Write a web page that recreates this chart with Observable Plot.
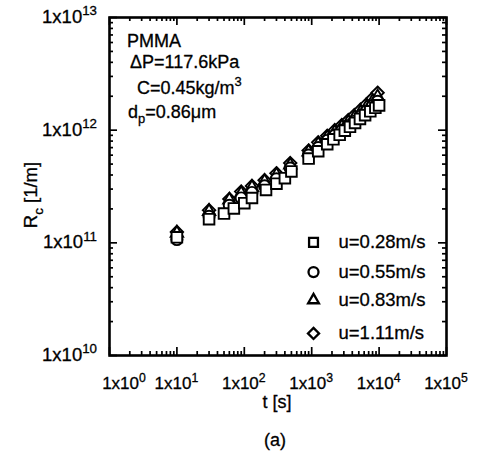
<!DOCTYPE html>
<html><head><meta charset="utf-8">
<script src="https://cdn.jsdelivr.net/npm/d3@7"></script>
<script src="https://cdn.jsdelivr.net/npm/@observablehq/plot@0.6"></script>
<style>
body{margin:0;background:#fff}
svg{font-family:"Liberation Sans",Arial,Helvetica,sans-serif;background:#fff}
</style>
</head><body><div id="chart"></div>
<script>
// ---- data ----
const seriesLabels = ["u=0.28m/s", "u=0.55m/s", "u=0.83m/s", "u=1.11m/s"];
const seriesSymbols = ["square", "circle", "triangle", "diamond2"];

const t028 = [10, 30, 50, 70, 100, 130, 210, 300, 400, 500, 900, 1250, 1700, 2100, 2600, 3100, 3700, 4400, 5200, 6200, 7400, 8800, 10000];
const r028 = [1.12e11, 1.62e11, 1.82e11, 2.02e11, 2.25e11, 2.5e11, 2.95e11, 3.35e11, 3.75e11, 4.3e11, 5.6e11, 6.5e11, 7.5e11, 8.3e11, 9.1e11, 9.9e11, 1.07e12, 1.16e12, 1.26e12, 1.36e12, 1.47e12, 1.58e12, 1.66e12];

const t055 = [10, 30, 60, 90, 130, 200, 300, 480, 900, 1250, 1700, 2200, 2800, 3500, 4300, 5300, 6500, 8000, 9500];
const r055 = [1.07e11, 1.72e11, 2.15e11, 2.5e11, 2.8e11, 3.2e11, 3.7e11, 4.6e11, 6.0e11, 7.0e11, 8.1e11, 9.0e11, 1.0e12, 1.1e12, 1.2e12, 1.33e12, 1.48e12, 1.65e12, 1.8e12];

const t083 = [10, 30, 60, 90, 130, 200, 300, 480, 900, 1250, 1700, 2200, 2800, 3500, 4300, 5300, 6500, 8000, 9500];
const r083 = [1.22e11, 1.9e11, 2.4e11, 2.75e11, 3.1e11, 3.5e11, 4.0e11, 4.9e11, 6.4e11, 7.5e11, 8.6e11, 9.6e11, 1.07e12, 1.18e12, 1.3e12, 1.44e12, 1.6e12, 1.8e12, 1.98e12];

const t111 = [10, 30, 60, 90, 130, 200, 300, 480, 900, 1250, 1700, 2200, 2800, 3500, 4300, 5300, 6500, 8000, 9500];
const r111 = [1.25e11, 1.95e11, 2.45e11, 2.85e11, 3.2e11, 3.6e11, 4.15e11, 5.1e11, 6.6e11, 7.8e11, 8.9e11, 1.0e12, 1.11e12, 1.23e12, 1.36e12, 1.52e12, 1.7e12, 1.92e12, 2.15e12];

const xTickExps = [0, 1, 2, 3, 4, 5];
const yTickExps = [10, 11, 12, 13];

const legendT = 1064;
const legendR = [1.01e11, 5.5e10, 3.1e10, 1.57e10];

const annotation = ["PMMA", "ΔP=117.6kPa", "C=0.45kg/m", "d"];

// ---- build tables ----
const seriesT = [t028, t055, t083, t111];
const seriesR = [r028, r055, r083, r111];
const rows = seriesT.flatMap((ts, i) => ts.map((t, j) => ({series: seriesLabels[i], t, r: seriesR[i][j]})));
const legendRows = seriesLabels.map((label, i) => ({label, t: legendT, r: legendR[i]}));

const W = 481, H = 464;
const M = {top: 17, right: 35, bottom: 109, left: 109};
const plotH = H - M.top - M.bottom;
const plotW = W - M.left - M.right;

const majorX = xTickExps.map(e => 10 ** e);
const minorX = xTickExps.slice(0, -1).flatMap(e => d3.range(2, 10).map(k => k * 10 ** e));
const majorY = yTickExps.map(e => 10 ** e);
const minorY = yTickExps.slice(0, -1).flatMap(e => d3.range(2, 10).map(k => k * 10 ** e));

const majorLen = 8, minorLen = 4, tickW = 1.7;
const dataR = [6, 5.6, 4.6, 5.6];
const legendSize = [5, 5, 4, 5];

const dotMarks = [3, 2, 1, 0].map(i => Plot.dot(rows.filter(d => d.series === seriesLabels[i]), {
  x: "t", y: "r", symbol: "series", r: dataR[i],
  fill: "white", stroke: "black", strokeWidth: 1.9
}));
const legendMarks = legendRows.map((d, i) => Plot.dot([d], {
  x: "t", y: "r", symbol: "label", r: legendSize[i], fill: "white", stroke: "black", strokeWidth: 2.3
}));

const chart = Plot.plot({
  width: W, height: H,
  marginTop: M.top, marginRight: M.right, marginBottom: M.bottom, marginLeft: M.left,
  x: {type: "log", domain: [1, 1e5], axis: null},
  y: {type: "log", domain: [1e10, 1e13], axis: null},
  symbol: {domain: seriesLabels, range: seriesSymbols},
  marks: [
    // inward ticks on all four sides
    Plot.ruleX(majorX, {x: d => d, insetTop: plotH - majorLen, stroke: "black", strokeWidth: tickW}),
    Plot.ruleX(minorX, {x: d => d, insetTop: plotH - minorLen, stroke: "black", strokeWidth: tickW}),
    Plot.ruleX(majorX, {x: d => d, insetBottom: plotH - majorLen, stroke: "black", strokeWidth: tickW}),
    Plot.ruleX(minorX, {x: d => d, insetBottom: plotH - minorLen, stroke: "black", strokeWidth: tickW}),
    Plot.ruleY(majorY, {y: d => d, insetRight: plotW - majorLen, stroke: "black", strokeWidth: tickW}),
    Plot.ruleY(minorY, {y: d => d, insetRight: plotW - minorLen, stroke: "black", strokeWidth: tickW}),
    Plot.ruleY(majorY, {y: d => d, insetLeft: plotW - majorLen, stroke: "black", strokeWidth: tickW}),
    Plot.ruleY(minorY, {y: d => d, insetLeft: plotW - minorLen, stroke: "black", strokeWidth: tickW}),
    Plot.frame({stroke: "black", strokeWidth: 2.6}),
    ...dotMarks,
    ...legendMarks,
    Plot.text(legendRows, {x: "t", y: "r", text: "label", dx: 25, textAnchor: "start", fontSize: 18.5, fill: "black", stroke: "black", strokeWidth: 0.3})
  ]
});

// ---- text with super/subscripts, positioned through the plot's scales ----
const sx = chart.scale("x"), sy = chart.scale("y");
const svg = d3.select(chart);
const g = svg.append("g").attr("fill", "black").attr("stroke", "black").attr("stroke-width", 0.3);

function scriptText(x, y, parts, size, anchor) {
  const t = g.append("text").attr("x", x).attr("y", y).attr("font-size", size).attr("text-anchor", anchor || "start");
  for (const p of parts) {
    const s = t.append("tspan").text(p.text);
    if (p.sup) s.attr("dy", -size * 0.42).attr("font-size", size * 0.72);
    if (p.sub) s.attr("dy", size * 0.3).attr("font-size", size * 0.72);
    if (p.back) s.attr("dy", p.back);
  }
  return t;
}

// x tick labels (the first one is nudged right, as in the reference)
xTickExps.forEach((e, i) => {
  scriptText(sx.apply(10 ** e) + (i === 0 ? 15 : 0), 389, [{text: "1x10"}, {text: String(e), sup: true}], 17, "middle");
});
// y tick labels
yTickExps.forEach(e => {
  scriptText(97, sy.apply(10 ** e) + 6, [{text: "1x10"}, {text: String(e), sup: true}], 18.5, "end");
});

// axis titles
scriptText(277, 408, [{text: "t [s]"}], 18, "middle");
const yt = scriptText(0, 0, [{text: "R"}, {text: "c", sub: true}, {text: " [1/m]", back: -18.5 * 0.3}], 18.5, "middle");
yt.attr("transform", "translate(37,195) rotate(-90)");

// caption
scriptText(275, 446, [{text: "(a)"}], 18, "middle");

// annotation block
scriptText(127, 47, [{text: annotation[0]}], 18);
scriptText(130, 68, [{text: annotation[1]}], 18);
scriptText(137, 94, [{text: annotation[2]}, {text: "3", sup: true}], 18);
scriptText(128, 118, [{text: annotation[3]}, {text: "p", sub: true}, {text: "=0.86μm", back: -18 * 0.3}], 18);

document.getElementById("chart").appendChild(chart);
</script>
</body></html>
